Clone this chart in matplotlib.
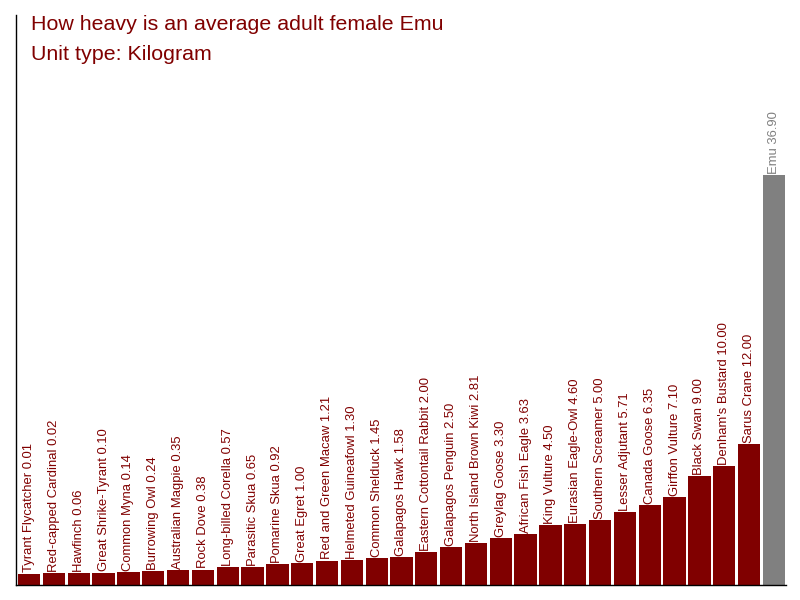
import matplotlib
matplotlib.use("Agg")
import matplotlib.pyplot as plt
import numpy as np

plt.rcParams['font.family'] = ['Liberation Sans', 'DejaVu Sans']

names = ["Tyrant Flycatcher", "Red-capped Cardinal", "Hawfinch", "Great Shrike-Tyrant",
         "Common Myna", "Burrowing Owl", "Australian Magpie", "Rock Dove",
         "Long-billed Corella", "Parasitic Skua", "Pomarine Skua", "Great Egret",
         "Red and Green Macaw", "Helmeted Guineafowl", "Common Shelduck", "Galapagos Hawk",
         "Eastern Cottontail Rabbit", "Galapagos Penguin", "North Island Brown Kiwi",
         "Greylag Goose", "African Fish Eagle", "King Vulture", "Eurasian Eagle-Owl",
         "Southern Screamer", "Lesser Adjutant", "Canada Goose", "Girffon Vulture",
         "Black Swan", "Denham's Bustard", "Sarus Crane", "Emu"]
values = [0.01, 0.02, 0.06, 0.10, 0.14, 0.24, 0.35, 0.38, 0.57, 0.65, 0.92, 1.00,
          1.21, 1.30, 1.45, 1.58, 2.00, 2.50, 2.81, 3.30, 3.63, 4.50, 4.60, 5.00,
          5.71, 6.35, 7.10, 9.00, 10.00, 12.00, 36.90]
highlight = "Emu"

red = "#800000"
grey = "#808080"

fig = plt.figure(figsize=(8, 6), dpi=100)
ax = fig.add_axes([16/800, 15/600, 770/800, 570/600])

base = 1.05
x = np.arange(len(values))
vals = np.array(values)
colors = [grey if n == highlight else red for n in names]
ax.bar(x, vals + base, bottom=-base, width=0.9, color=colors)
ax.set_xlim(-0.53, len(values) - 0.51)
ax.set_ylim(-base, 51.7)

for xi, v, n, c in zip(x, vals, names, colors):
    ax.text(xi, v + 0.1, f"{n} {v:.2f}", rotation=90, ha='center', va='bottom',
            color=c, fontsize=9.4)

for s in ['top', 'right']:
    ax.spines[s].set_visible(False)
ax.spines['left'].set_linewidth(1)
ax.spines['bottom'].set_linewidth(1)
ax.set_xticks([])
ax.set_yticks([])

fig.text(31/800, 1 - 30/600, "How heavy is an average adult female Emu", color=red,
         fontsize=15.4, ha='left', va='baseline')
fig.text(31/800, 1 - 60/600, "Unit type: Kilogram", color=red,
         fontsize=15.4, ha='left', va='baseline')

fig.savefig("out.png", dpi=100)
